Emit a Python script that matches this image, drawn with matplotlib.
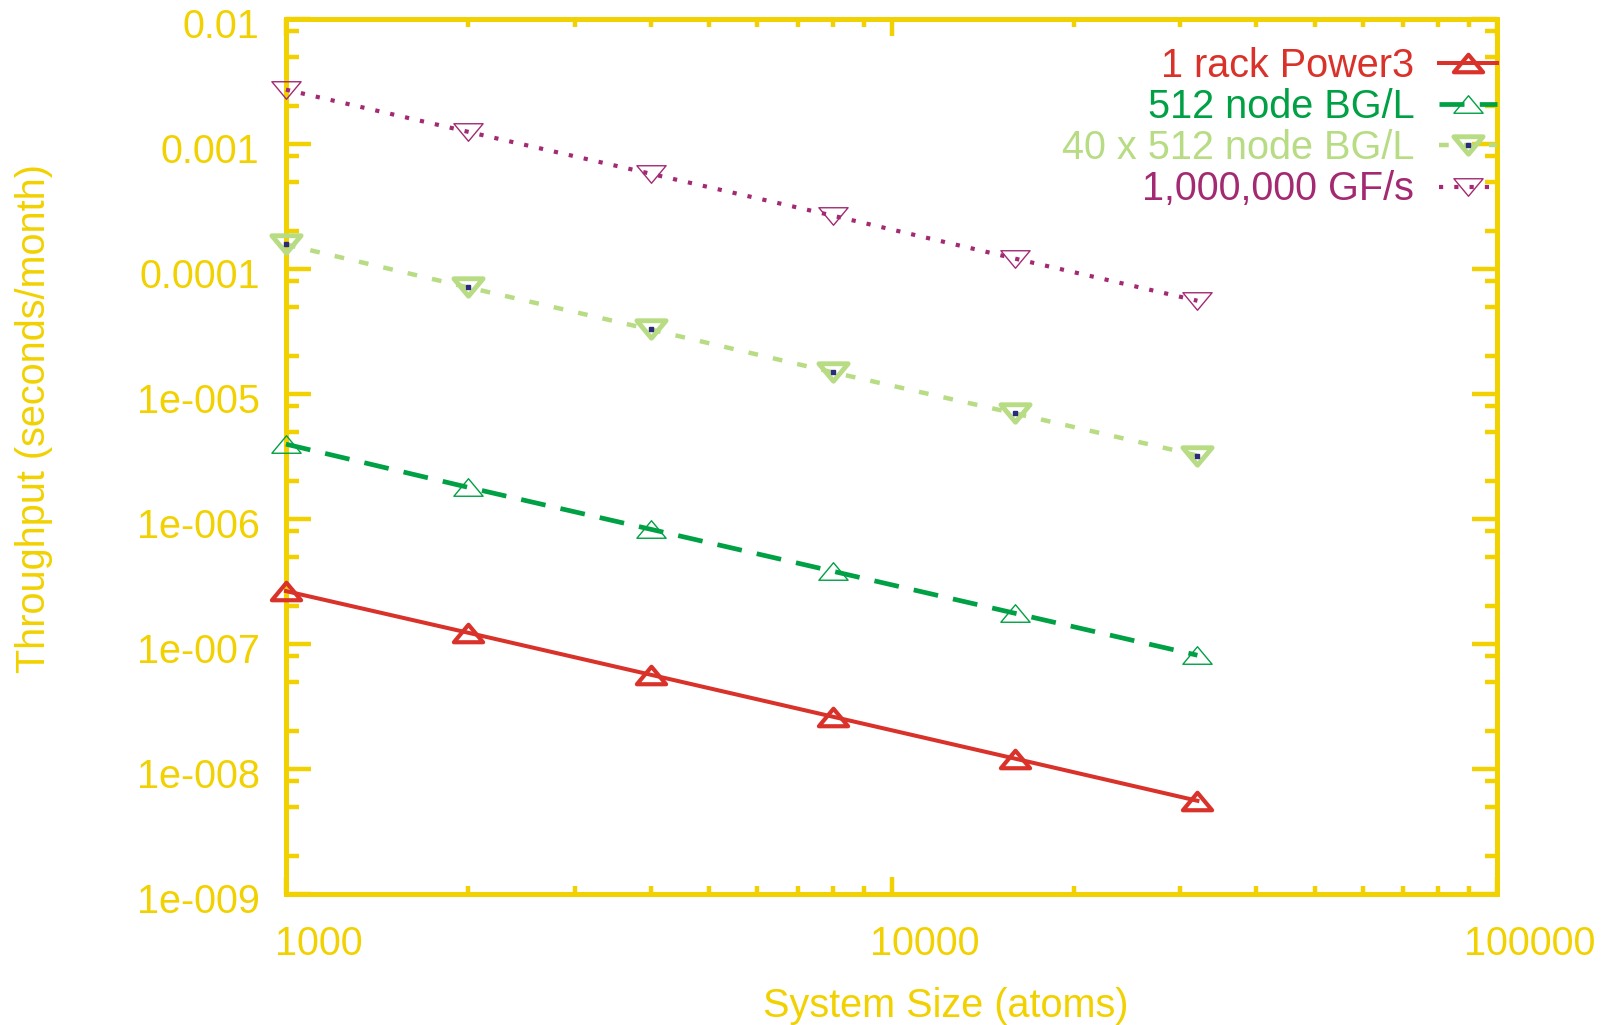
import matplotlib

matplotlib.use("Agg")

import matplotlib.pyplot as plt
from matplotlib.path import Path
from matplotlib.ticker import LogLocator, FixedLocator, FixedFormatter, NullFormatter
from matplotlib.transforms import ScaledTranslation
from matplotlib.legend_handler import HandlerTuple

# data
system_size = [1000, 2000, 4000, 8000, 16000, 32000]
power3_1rack = [2.65e-7, 1.23e-7, 5.68e-8, 2.62e-8, 1.21e-8, 5.57e-9]
bgl_512 = [3.97e-6, 1.79e-6, 8.28e-7, 3.82e-7, 1.76e-7, 8.13e-8]
bgl_40x512 = [1.57e-4, 7.12e-5, 3.28e-5, 1.49e-5, 6.98e-6, 3.22e-6]
petaflop = [2.72e-3, 1.25e-3, 5.78e-4, 2.67e-4, 1.21e-4, 5.57e-5]

series_labels = ["1 rack Power3", "512 node BG/L", "40 x 512 node BG/L", "1,000,000 GF/s"]
xtick_values = [1000, 10000, 100000]
xtick_labels = ["1000", "10000", "100000"]
ytick_values = [1e-9, 1e-8, 1e-7, 1e-6, 1e-5, 1e-4, 1e-3, 1e-2]
ytick_labels = ["1e-009", "1e-008", "1e-007", "1e-006", "1e-005", "0.0001", "0.001", "0.01"]

YELLOW = "#f2d100"
RED = "#d9322a"
GREEN = "#00a044"
LIGHT = "#b7dc84"
PURPLE = "#a32a72"
NAVY = "#2b2b7c"

plt.rcParams["font.family"] = ["Liberation Sans", "DejaVu Sans"]
plt.rcParams["lines.scale_dashes"] = False

# gnuplot-ish flat triangles
tri_up = Path([(0, 0.6), (-1, -0.6), (1, -0.6), (0, 0.6)], closed=True)
tri_dn = Path([(0, -0.6), (-1, 0.6), (1, 0.6), (0, -0.6)], closed=True)

fig = plt.figure(figsize=(16.02, 10.25), dpi=100)
ax = fig.add_axes([0.1785, 0.1278, 0.756, 0.8537])

fs = 28.5

h1, = ax.plot(system_size, power3_1rack, color=RED, lw=2.9, marker=tri_up, ms=21,
              mfc="none", mew=3.0, clip_on=False, zorder=3)
h2, = ax.plot(system_size, bgl_512, color=GREEN, lw=3.4, ls=(0, (18, 11)), marker=tri_up,
              ms=21, mfc="none", mew=1.0, clip_on=False, zorder=3)
h3, = ax.plot(system_size, bgl_40x512, color=LIGHT, lw=3.2, ls=(0, (7, 11)), marker=tri_dn,
              ms=21, mfc="none", mew=3.5, clip_on=False, zorder=3)
h3b, = ax.plot(system_size, bgl_40x512, ls="none", marker="s", ms=3.2, color=NAVY,
               clip_on=False, zorder=4)
h4, = ax.plot(system_size, petaflop, color=PURPLE, lw=3.0, ls=(0, (3, 8)), marker=tri_dn,
              ms=21, mfc="none", mew=1.0, clip_on=False, zorder=3)

ax.set_xscale("log")
ax.set_yscale("log")
ax.set_xlim(1000, 100000)
ax.set_ylim(1e-9, 1e-2)

ax.xaxis.set_major_locator(FixedLocator(xtick_values))
ax.xaxis.set_major_formatter(FixedFormatter(xtick_labels))
ax.xaxis.set_minor_locator(LogLocator(base=10, subs=range(2, 10), numticks=20))
ax.xaxis.set_minor_formatter(NullFormatter())
ax.yaxis.set_major_locator(FixedLocator(ytick_values))
ax.yaxis.set_major_formatter(FixedFormatter(ytick_labels))
ax.yaxis.set_minor_locator(LogLocator(base=10, subs=(2, 5, 8), numticks=20))
ax.yaxis.set_minor_formatter(NullFormatter())

for s in ax.spines.values():
    s.set_color(YELLOW)
    s.set_linewidth(3.6)

ax.tick_params(which="both", direction="in", colors=YELLOW, width=3.2,
               top=True, right=True, labelsize=fs, labelcolor=YELLOW)
ax.tick_params(axis="x", which="major", length=12, pad=22)
ax.tick_params(axis="x", which="minor", length=6)
ax.tick_params(axis="y", which="major", length=18, pad=19)
ax.tick_params(axis="y", which="minor", length=9)

shift = ScaledTranslation(0.33, 0, fig.dpi_scale_trans)
for lab in ax.get_xticklabels():
    lab.set_transform(lab.get_transform() + shift)
down = ScaledTranslation(0, -0.04, fig.dpi_scale_trans)
for lab in ax.get_yticklabels():
    lab.set_transform(lab.get_transform() + down)

ax.set_xlabel("System Size (atoms)", fontsize=fs, color=YELLOW)
ax.xaxis.set_label_coords(0.545, -0.128)
ax.xaxis.label.set_va("center")
ax.set_ylabel("Throughput (seconds/month)", fontsize=fs, color=YELLOW)
ax.yaxis.set_label_coords(-0.208, 0.543)
ax.yaxis.label.set_va("center")

leg = ax.legend([h1, h2, (h3, h3b), h4], series_labels,
                handler_map={tuple: HandlerTuple(ndivide=1)},
                loc="upper right", bbox_to_anchor=(1.0, 0.968), frameon=False,
                markerfirst=False, fontsize=fs, handlelength=1.46, handletextpad=0.63,
                labelspacing=0.08, borderpad=0, borderaxespad=0)
for t, c in zip(leg.get_texts(), [RED, GREEN, LIGHT, PURPLE]):
    t.set_color(c)

fig.savefig("out.png", dpi=100, facecolor="white")
